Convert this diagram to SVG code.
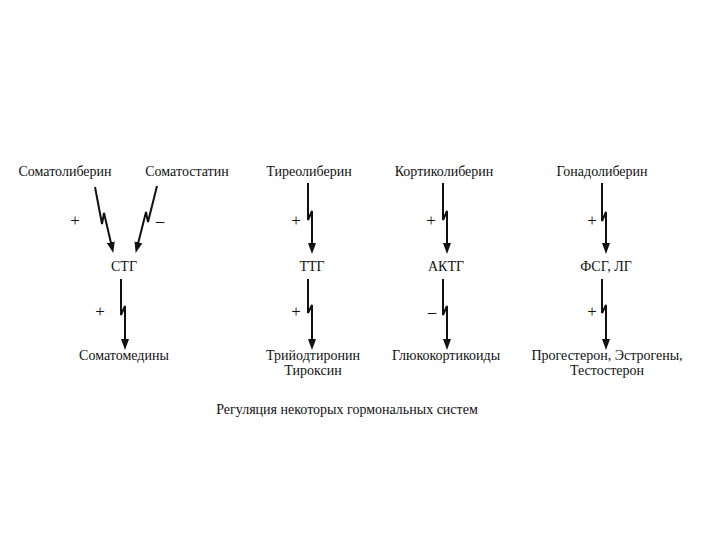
<svg xmlns="http://www.w3.org/2000/svg" width="720" height="540" viewBox="0 0 720 540">
<style>
text{font-family:"Liberation Serif","Times New Roman",serif;font-size:14px;fill:#111;text-anchor:middle}
.s{font-size:17px}
.c{fill:none;stroke:#111;stroke-width:2;stroke-linejoin:miter}
</style>
<defs>
<marker id="ah" markerUnits="userSpaceOnUse" markerWidth="11" markerHeight="8" refX="4" refY="4" orient="auto">
<path d="M0,0 L11,4 L0,8 z" fill="#111"/>
</marker>
</defs>
<rect width="720" height="540" fill="#fff"/>
<g id="n-somatoliberin"><text x="65" y="176">Соматолиберин</text></g>
<g id="n-somatostatin"><text x="187" y="176">Соматостатин</text></g>
<g id="n-tireoliberin"><text x="309" y="176">Тиреолиберин</text></g>
<g id="n-kortikoliberin"><text x="444" y="176">Кортиколиберин</text></g>
<g id="n-gonadoliberin"><text x="602" y="176">Гонадолиберин</text></g>
<g id="n-stg"><text x="124" y="271">СТГ</text></g>
<g id="n-ttg"><text x="312" y="271">ТТГ</text></g>
<g id="n-aktg"><text x="446" y="271">АКТГ</text></g>
<g id="n-fsg"><text x="606" y="271">ФСГ, ЛГ</text></g>
<g id="n-somatomediny"><text x="124" y="360">Соматомедины</text></g>
<g id="n-triiod"><text x="313" y="360">Трийодтиронин</text><text x="313" y="375">Тироксин</text></g>
<g id="n-gluko"><text x="446" y="360">Глюкокортикоиды</text></g>
<g id="n-progesteron"><text x="607" y="360">Прогестерон, Эстрогены,</text><text x="607" y="375">Тестостерон</text></g>
<g id="connectors">
<polyline class="c" marker-end="url(#ah)" points="95,187 102,224 104,213 111.7,246.1"/>
<polyline class="c" marker-end="url(#ah)" points="157,186 148,222 146,212 137.4,246.2"/>
<polyline class="c" marker-end="url(#ah)" points="308,183 308,220 312,211 312,247"/>
<polyline class="c" marker-end="url(#ah)" points="443,183 443,220 447,211 447,247"/>
<polyline class="c" marker-end="url(#ah)" points="602,183 602,221 606,212 606,247"/>
<polyline class="c" marker-end="url(#ah)" points="121,279 121,315 125,306 125,343"/>
<polyline class="c" marker-end="url(#ah)" points="308,279 308,313 312,305 312,343"/>
<polyline class="c" marker-end="url(#ah)" points="443,279 443,315 447,306 447,343"/>
<polyline class="c" marker-end="url(#ah)" points="602,279 602,313 606,305 606,343"/>
<text class="s" x="75" y="226">+</text>
<text class="s" x="160" y="226">–</text>
<text class="s" x="296" y="226">+</text>
<text class="s" x="431" y="226">+</text>
<text class="s" x="592" y="226">+</text>
<text class="s" x="100" y="317">+</text>
<text class="s" x="296" y="317">+</text>
<text class="s" x="432" y="317">–</text>
<text class="s" x="592" y="317">+</text>
</g>
<text x="347" y="414">Регуляция некоторых гормональных систем</text>
</svg>
